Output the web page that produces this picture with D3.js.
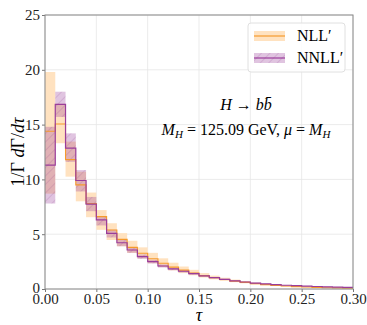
<!DOCTYPE html>
<html>
<head>
<meta charset="utf-8">
<script src="https://cdn.jsdelivr.net/npm/d3@7"></script>
<style>
  body { margin: 0; background: #fff; }
</style>
</head>
<body>
<script>
var width = 367, height = 325;
var margin = {top: 15, right: 14, bottom: 36, left: 45};
var serif = "'Liberation Serif', 'Times New Roman', serif";

// bin edges in tau
var binLo = [0.00, 0.01, 0.02, 0.03, 0.04, 0.05, 0.06, 0.07, 0.08, 0.09,
             0.10, 0.11, 0.12, 0.13, 0.14, 0.15, 0.16, 0.17, 0.18, 0.19,
             0.20, 0.21, 0.22, 0.23, 0.24, 0.25, 0.26, 0.27, 0.28, 0.29];
var binHi = [0.01, 0.02, 0.03, 0.04, 0.05, 0.06, 0.07, 0.08, 0.09, 0.10,
             0.11, 0.12, 0.13, 0.14, 0.15, 0.16, 0.17, 0.18, 0.19, 0.20,
             0.21, 0.22, 0.23, 0.24, 0.25, 0.26, 0.27, 0.28, 0.29, 0.30];

var nll    = [14.4, 15.05, 11.8, 9.5, 7.8, 6.6, 5.38, 4.53, 3.8, 3.26,
              2.76, 2.35, 2.0, 1.72, 1.46, 1.22, 1.03, 0.87, 0.72, 0.6,
              0.49, 0.4, 0.33, 0.27, 0.22, 0.18, 0.15, 0.12, 0.1, 0.08];
var nllLo  = [8.7, 13.3, 10.25, 8.0, 6.55, 5.4, 4.47, 3.9, 3.3, 2.8,
              2.35, 2.0, 1.7, 1.45, 1.25, 1.05, 0.88, 0.74, 0.62, 0.52,
              0.42, 0.34, 0.28, 0.23, 0.19, 0.15, 0.12, 0.1, 0.08, 0.06];
var nllHi  = [19.8, 16.9, 13.45, 10.7, 8.8, 7.2, 6.0, 5.1, 4.4, 3.8,
              3.3, 2.8, 2.4, 2.05, 1.75, 1.45, 1.22, 1.03, 0.86, 0.72,
              0.58, 0.48, 0.39, 0.32, 0.26, 0.22, 0.18, 0.15, 0.12, 0.1];

var nnll   = [11.3, 16.85, 12.85, 9.9, 7.75, 6.3, 5.08, 4.22, 3.56, 2.95,
              2.5, 2.1, 1.83, 1.62, 1.4, 1.19, 1.03, 0.88, 0.75, 0.64,
              0.54, 0.46, 0.4, 0.34, 0.3, 0.26, 0.23, 0.2, 0.17, 0.15];
var nnllLo = [7.8, 15.7, 11.6, 8.9, 7.1, 5.8, 4.7, 3.9, 3.3, 2.75,
              2.33, 1.96, 1.71, 1.51, 1.31, 1.11, 0.96, 0.82, 0.7, 0.6,
              0.5, 0.43, 0.37, 0.32, 0.28, 0.24, 0.21, 0.18, 0.16, 0.14];
var nnllHi = [14.8, 18.0, 14.2, 10.85, 8.4, 6.6, 5.4, 4.5, 3.8, 3.15,
              2.67, 2.24, 1.95, 1.73, 1.49, 1.27, 1.1, 0.94, 0.8, 0.68,
              0.58, 0.49, 0.43, 0.36, 0.32, 0.28, 0.25, 0.22, 0.18, 0.16];

var xTicks = [0, 0.05, 0.10, 0.15, 0.20, 0.25, 0.30];
var yTicks = [0, 5, 10, 15, 20, 25];

var orangeLine = "#f59a2c", orangeFill = "#ffe2c0";
var purpleLine = "#9a3d9a";

var svg = d3.select("body").append("svg")
    .attr("width", width)
    .attr("height", height)
    .style("font-family", serif);

var defs = svg.append("defs");
var pat = defs.append("pattern")
    .attr("id", "hatch")
    .attr("patternUnits", "userSpaceOnUse")
    .attr("width", 6).attr("height", 6)
    .attr("patternTransform", "rotate(45)");
pat.append("rect").attr("width", 6).attr("height", 6)
    .attr("fill", "#9a3d9a").attr("fill-opacity", 0.3);
pat.append("line").attr("x1", 0).attr("y1", 0).attr("x2", 0).attr("y2", 6)
    .attr("stroke", "#8a3a8a").attr("stroke-width", 1).attr("stroke-opacity", 0.35);

var x = d3.scaleLinear().domain([0, 0.3]).range([margin.left, width - margin.right]);
var y = d3.scaleLinear().domain([0, 25]).range([height - margin.bottom, margin.top]);

// grid
var grid = svg.append("g").attr("class", "grid");
grid.selectAll("line.v").data(xTicks).enter().append("line")
    .attr("x1", function(d) { return x(d); }).attr("x2", function(d) { return x(d); })
    .attr("y1", y(0)).attr("y2", y(25))
    .attr("stroke", "#e6e6e6").attr("stroke-width", 0.8);
grid.selectAll("line.h").data(yTicks).enter().append("line")
    .attr("y1", function(d) { return y(d); }).attr("y2", function(d) { return y(d); })
    .attr("x1", x(0)).attr("x2", x(0.3))
    .attr("stroke", "#e6e6e6").attr("stroke-width", 0.8);

var bins = binLo.map(function(lo, i) {
  return {lo: lo, hi: binHi[i], nll: nll[i], nllLo: nllLo[i], nllHi: nllHi[i],
          nnll: nnll[i], nnllLo: nnllLo[i], nnllHi: nnllHi[i]};
});

// NLL band
svg.append("g").selectAll("rect").data(bins).enter().append("rect")
    .attr("x", function(d) { return x(d.lo); })
    .attr("width", function(d) { return x(d.hi) - x(d.lo); })
    .attr("y", function(d) { return y(d.nllHi); })
    .attr("height", function(d) { return y(d.nllLo) - y(d.nllHi); })
    .attr("fill", orangeFill);

// NNLL band (hatched)
svg.append("g").selectAll("rect").data(bins).enter().append("rect")
    .attr("x", function(d) { return x(d.lo); })
    .attr("width", function(d) { return x(d.hi) - x(d.lo); })
    .attr("y", function(d) { return y(d.nnllHi); })
    .attr("height", function(d) { return y(d.nnllLo) - y(d.nnllHi); })
    .attr("fill", "url(#hatch)");

function stepPts(key) {
  var pts = [];
  bins.forEach(function(d) {
    pts.push([d.lo, d[key]]);
    pts.push([d.hi, d[key]]);
  });
  return pts;
}
var line = d3.line().x(function(p) { return x(p[0]); }).y(function(p) { return y(p[1]); });

svg.append("path").datum(stepPts("nll"))
    .attr("d", line).attr("fill", "none")
    .attr("stroke", orangeLine).attr("stroke-width", 1.1);
svg.append("path").datum(stepPts("nnll"))
    .attr("d", line).attr("fill", "none")
    .attr("stroke", purpleLine).attr("stroke-width", 1.2);

// axes
var xAxis = d3.axisBottom(x).tickValues(xTicks).tickFormat(d3.format(".2f")).tickSize(3).tickPadding(1);
var yAxis = d3.axisLeft(y).tickValues(yTicks).tickFormat(d3.format("d")).tickSize(3).tickPadding(2);

var gx = svg.append("g").attr("transform", "translate(0," + y(0) + ")").call(xAxis);
var gy = svg.append("g").attr("transform", "translate(" + x(0) + ",0)").call(yAxis);
[gx, gy].forEach(function(g) {
  g.attr("font-family", null);
  g.select(".domain").remove();
  g.selectAll(".tick line").attr("stroke", "#777");
  g.selectAll(".tick text").attr("font-size", 15).attr("fill", "#222")
    .style("font-family", serif);
});
// keep the y "0" just above the x "0.00"
gy.selectAll(".tick text").filter(function(d) { return d === 0; }).attr("dy", "0.2em");

// frame
svg.append("rect")
    .attr("x", x(0)).attr("y", y(25))
    .attr("width", x(0.3) - x(0)).attr("height", y(0) - y(25))
    .attr("fill", "none").attr("stroke", "#888").attr("stroke-width", 1);

// axis labels
svg.append("text")
    .attr("x", (x(0) + x(0.3)) / 2).attr("y", 321)
    .attr("text-anchor", "middle").attr("font-size", 18).attr("font-style", "italic")
    .text("τ");

var yl = svg.append("text")
    .attr("transform", "translate(24," + (y(12.5)) + ") rotate(-90)")
    .attr("text-anchor", "middle").attr("font-size", 18);
yl.append("tspan").text("1/Γ ");
yl.append("tspan").attr("font-style", "italic").text("d");
yl.append("tspan").text("Γ/");
yl.append("tspan").attr("font-style", "italic").text("dτ");

// annotation
var t1 = svg.append("text").attr("x", 246).attr("y", 110)
    .attr("text-anchor", "middle").attr("font-size", 16);
t1.append("tspan").attr("font-style", "italic").text("H");
t1.append("tspan").text(" → ");
t1.append("tspan").attr("font-style", "italic").text("b");
t1.append("tspan").attr("font-style", "italic").text("b\u0304");

var t2 = svg.append("text").attr("x", 246).attr("y", 135)
    .attr("text-anchor", "middle").attr("font-size", 16);
t2.append("tspan").attr("font-style", "italic").text("M");
t2.append("tspan").attr("font-style", "italic").attr("font-size", 11).attr("dy", 3).text("H");
t2.append("tspan").attr("dy", -3).text(" = 125.09 GeV,  ");
t2.append("tspan").attr("font-style", "italic").text("μ");
t2.append("tspan").text(" = ");
t2.append("tspan").attr("font-style", "italic").text("M");
t2.append("tspan").attr("font-style", "italic").attr("font-size", 11).attr("dy", 3).text("H");

// legend
var lg = svg.append("g");
lg.append("rect")
    .attr("x", 248).attr("y", 23).attr("width", 97).attr("height", 49)
    .attr("rx", 3).attr("fill", "#fff").attr("fill-opacity", 0.85)
    .attr("stroke", "#e0e0e0").attr("stroke-width", 1);
var legItems = [
  {label: "NLL\u2032", fill: orangeFill, stroke: orangeLine},
  {label: "NNLL\u2032", fill: "url(#hatch)", stroke: purpleLine}
];
legItems.forEach(function(it, i) {
  var yy = 31 + i * 22;
  lg.append("rect").attr("x", 254).attr("y", yy).attr("width", 31).attr("height", 10)
      .attr("fill", it.fill);
  lg.append("line").attr("x1", 254).attr("x2", 285).attr("y1", yy + 5).attr("y2", yy + 5)
      .attr("stroke", it.stroke).attr("stroke-width", 1.2);
  lg.append("text").attr("x", 297).attr("y", yy + 10)
      .attr("font-size", 16).text(it.label);
});
</script>
</body>
</html>
